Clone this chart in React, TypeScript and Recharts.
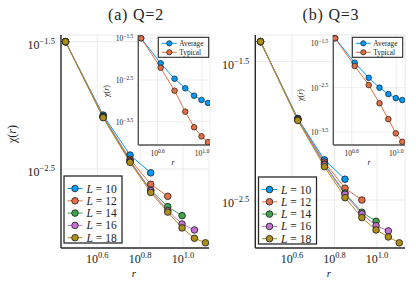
import { LineChart, Line, XAxis, YAxis, CartesianGrid } from 'recharts'

// r = k * sqrt(2), k = 2..9
const rValues = [2.83, 4.24, 5.66, 7.07, 8.49, 9.9, 11.31, 12.73]
const sizes = [10, 12, 14, 16, 18]
const colors = ['#009AFA', '#E26F46', '#3EA44E', '#C271D2', '#AC8E18']

// (a) Q=2, chi(r) for each L
const q2L10 = [0.03162, 0.00839, 0.00407, 0.00295]
const q2L12 = [0.03162, 0.00822, 0.00377, 0.0024, 0.00193]
const q2L14 = [0.03162, 0.00813, 0.00367, 0.00216, 0.0016, 0.00136]
const q2L16 = [0.03162, 0.00807, 0.00363, 0.00214, 0.00149, 0.00117, 0.00105]
const q2L18 = [0.03162, 0.008, 0.00357, 0.00207, 0.00145, 0.00109, 0.000904, 0.000832]

// (b) Q=3
const q3L10 = [0.04416, 0.0123, 0.00617, 0.00447]
const q3L12 = [0.04416, 0.01216, 0.00593, 0.00385, 0.00316]
const q3L14 = [0.04416, 0.01208, 0.00575, 0.00355, 0.00258, 0.00222]
const q3L16 = [0.04416, 0.01202, 0.00569, 0.00348, 0.00251, 0.00206, 0.00189]
const q3L18 = [0.04416, 0.01189, 0.0055, 0.00329, 0.00236, 0.00192, 0.00171, 0.00155]

// insets: average vs typical
const q2Average = [0.03162, 0.00794, 0.00339, 0.002, 0.00133, 0.00105, 0.000891]
const q2Typical = [0.03162, 0.00624, 0.00175, 0.00055, 0.000232, 0.000141, 0.000102]
const q3Average = [0.04102, 0.01153, 0.00528, 0.00316, 0.00226, 0.00184, 0.00166]
const q3Typical = [0.04102, 0.00973, 0.00363, 0.00141, 0.000617, 0.000295, 0.000191]

const xTicks = [10 ** 0.6, 10 ** 0.8, 10 ** 1.0]
const xTicksInset = [10 ** 0.6, 10 ** 1.0]
const yTicks = [10 ** -1.5, 10 ** -2.5]
const yTicksInset = [10 ** -1.5, 10 ** -2.5, 10 ** -3.5]

const FONT = "'Liberation Serif', 'DejaVu Serif', serif"
const GRID = '#e6e6e6'
const FRAME = '#2a2a2a'

function mainTable(series: number[][]) {
  return rValues.map((r, i) => {
    const row: Record<string, number | undefined> = { r }
    series.forEach((s, j) => {
      row['L' + sizes[j]] = s[i]
    })
    return row
  })
}

function insetTable(avg: number[], typ: number[]) {
  return avg.map((a, i) => ({ r: rValues[i], avg: a, typ: typ[i] }))
}

function expText(v: number) {
  const e = Math.log10(v)
  return (e < -1e-9 ? '\u2212' : '') + Math.abs(e).toFixed(1)
}

const xTick = (fs: number, sup: number, dy: number) => (p: any) => (
  <text x={p.x} y={p.y + dy} textAnchor="middle" style={{ fontFamily: FONT }} fontSize={fs} fill="#222">
    <tspan>10</tspan>
    <tspan dy={-fs * 0.42} fontSize={sup}>{expText(p.payload.value)}</tspan>
  </text>
)

const yTick = (fs: number, sup: number, dx: number, dy: number) => (p: any) => (
  <text x={p.x - dx} y={p.y + dy} textAnchor="end" style={{ fontFamily: FONT }} fontSize={fs} fill="#222">
    <tspan>10</tspan>
    <tspan dy={-fs * 0.42} fontSize={sup}>{expText(p.payload.value)}</tspan>
  </text>
)

const pow = (a: number, b: number) => [10 ** a, 10 ** b]

function MainPanel(props: {
  left: number
  width: number
  yAxisWidth: number
  data: any[]
  xDomain: number[]
  yDomain: number[]
}) {
  return (
    <div style={{ position: 'absolute', left: props.left, top: 0 }}>
      <LineChart
        width={props.width}
        height={282}
        data={props.data}
        margin={{ top: 35, right: 1, bottom: 0, left: 0 }}
      >
        <CartesianGrid stroke={GRID} strokeWidth={0.8} />
        <XAxis
          dataKey="r"
          type="number"
          scale="log"
          domain={props.xDomain}
          allowDataOverflow
          ticks={xTicks}
          interval={0}
          height={34}
          tickLine={false}
          tickSize={0}
          axisLine={{ stroke: FRAME, strokeWidth: 1.4 }}
          tick={xTick(12, 8.5, 13)}
        />
        <YAxis
          type="number"
          scale="log"
          domain={props.yDomain}
          allowDataOverflow
          ticks={yTicks}
          interval={0}
          width={props.yAxisWidth}
          tickLine={false}
          tickSize={0}
          axisLine={{ stroke: FRAME, strokeWidth: 1.4 }}
          tick={yTick(12, 8.5, 4, 7)}
        />
        {sizes.map((L, i) => (
          <Line
            key={L}
            dataKey={'L' + L}
            stroke={colors[i]}
            strokeWidth={1}
            dot={{ r: 3.3, fill: colors[i], stroke: '#1a1a1a', strokeWidth: 0.8 }}
            isAnimationActive={false}
          />
        ))}
      </LineChart>
    </div>
  )
}

function InsetPanel(props: {
  left: number
  data: any[]
  xDomain: number[]
  yDomain: number[]
}) {
  return (
    <div style={{ position: 'absolute', left: props.left, top: 28 }}>
      <LineChart
        width={116}
        height={145}
        data={props.data}
        margin={{ top: 7, right: 1, bottom: 0, left: 0 }}
      >
        <CartesianGrid stroke={GRID} strokeWidth={0.7} fill="#ffffff" fillOpacity={1} />
        <XAxis
          dataKey="r"
          type="number"
          scale="log"
          domain={props.xDomain}
          allowDataOverflow
          ticks={xTicksInset}
          interval={0}
          height={28}
          tickLine={false}
          tickSize={0}
          axisLine={{ stroke: '#555', strokeWidth: 1.4 }}
          tick={xTick(7.5, 5.5, 9)}
        />
        <YAxis
          type="number"
          scale="log"
          domain={props.yDomain}
          allowDataOverflow
          ticks={yTicksInset}
          interval={0}
          width={43.3}
          tickLine={false}
          tickSize={0}
          axisLine={{ stroke: '#555', strokeWidth: 1.4 }}
          tick={yTick(7.5, 5.5, 3, 3)}
        />
        <Line
          dataKey="avg"
          stroke={colors[0]}
          strokeWidth={1}
          dot={{ r: 2.8, fill: colors[0], stroke: '#1a1a1a', strokeWidth: 0.7 }}
          isAnimationActive={false}
        />
        <Line
          dataKey="typ"
          stroke={colors[1]}
          strokeWidth={1}
          dot={{ r: 2.8, fill: colors[1], stroke: '#1a1a1a', strokeWidth: 0.7 }}
          isAnimationActive={false}
        />
      </LineChart>
    </div>
  )
}

function SizeLegend({ x, y }: { x: number; y: number }) {
  return (
    <g>
      <rect x={x} y={y} width={58} height={67} fill="#fff" stroke={FRAME} strokeWidth={1.3} />
      {sizes.map((L, i) => {
        const cy = y + 12.5 + i * 12.3
        return (
          <g key={L}>
            <line x1={x + 3.5} x2={x + 18.5} y1={cy} y2={cy} stroke={colors[i]} strokeWidth={1} />
            <circle cx={x + 11} cy={cy} r={3.3} fill={colors[i]} stroke="#1a1a1a" strokeWidth={0.8} />
            <text x={x + 22.5} y={cy + 4} style={{ fontFamily: FONT }} fontSize={11.5} fill="#222">
              <tspan fontStyle="italic">L</tspan>
              <tspan> = {L}</tspan>
            </text>
          </g>
        )
      })}
    </g>
  )
}

function TypeLegend({ x, y }: { x: number; y: number }) {
  const names = ['Average', 'Typical']
  return (
    <g>
      <rect x={x} y={y} width={50.4} height={20} fill="#fff" stroke={FRAME} strokeWidth={1.1} />
      {names.map((n, i) => {
        const cy = y + 6 + i * 9
        return (
          <g key={n}>
            <line x1={x + 3.4} x2={x + 18.4} y1={cy} y2={cy} stroke={colors[i]} strokeWidth={1} />
            <circle cx={x + 11} cy={cy} r={2.6} fill={colors[i]} stroke="#1a1a1a" strokeWidth={0.7} />
            <text x={x + 21} y={cy + 2.5} style={{ fontFamily: FONT }} fontSize={7.3} fill="#222">
              {n}
            </text>
          </g>
        )
      })}
    </g>
  )
}

const txt = { fontFamily: FONT }

export default function App() {
  const dataA = mainTable([q2L10, q2L12, q2L14, q2L16, q2L18])
  const dataB = mainTable([q3L10, q3L12, q3L14, q3L16, q3L18])
  const insetA = insetTable(q2Average, q2Typical)
  const insetB = insetTable(q3Average, q3Typical)

  return (
    <div style={{ position: 'absolute', left: 0, top: 0, width: 416, height: 282, background: '#fff' }}>
      <MainPanel left={0} width={210} yAxisWidth={61} data={dataA} xDomain={pow(0.4306, 1.1214)} yDomain={pow(-3.1206, -1.447)} />
      <MainPanel left={206} width={200} yAxisWidth={49.3} data={dataB} xDomain={pow(0.4273, 1.1318)} yDomain={pow(-2.847, -1.307)} />
      <InsetPanel left={95} data={insetA} xDomain={pow(0.4262, 1.072)} yDomain={pow(-4.059, -1.421)} />
      <InsetPanel left={290} data={insetB} xDomain={pow(0.4353, 1.078)} yDomain={pow(-3.793, -1.313)} />
      <svg width={416} height={282} style={{ position: 'absolute', left: 0, top: 0, pointerEvents: 'none' }}>
        <text x={136} y={20} textAnchor="middle" style={txt} fontSize={16} letterSpacing={0.8} fill="#222">
          (a) Q=2
        </text>
        <text x={331} y={20} textAnchor="middle" style={txt} fontSize={16} letterSpacing={0.8} fill="#222">
          (b) Q=3
        </text>
        <text x={134} y={277} textAnchor="middle" style={txt} fontSize={11} fontStyle="italic" fill="#222">
          r
        </text>
        <text x={329} y={277} textAnchor="middle" style={txt} fontSize={11} fontStyle="italic" fill="#222">
          r
        </text>
        <text x={16} y={134} textAnchor="middle" style={txt} fontSize={12} fill="#222" transform="rotate(-90 16 134)">
          χ(<tspan fontStyle="italic">r</tspan>)
        </text>
        <text x={173} y={165} textAnchor="middle" style={txt} fontSize={8} fontStyle="italic" fill="#222">
          r
        </text>
        <text x={369} y={165} textAnchor="middle" style={txt} fontSize={8} fontStyle="italic" fill="#222">
          r
        </text>
        <text x={109} y={91} textAnchor="middle" style={txt} fontSize={8} fill="#222" transform="rotate(-90 109 91)">
          χ(<tspan fontStyle="italic">r</tspan>)
        </text>
        <text x={303} y={95} textAnchor="middle" style={txt} fontSize={8} fill="#222" transform="rotate(-90 303 95)">
          χ(<tspan fontStyle="italic">r</tspan>)
        </text>
        <SizeLegend x={64} y={176} />
        <SizeLegend x={258.5} y={177} />
        <TypeLegend x={158.3} y={37.3} />
        <TypeLegend x={352.3} y={37.3} />
      </svg>
    </div>
  )
}
